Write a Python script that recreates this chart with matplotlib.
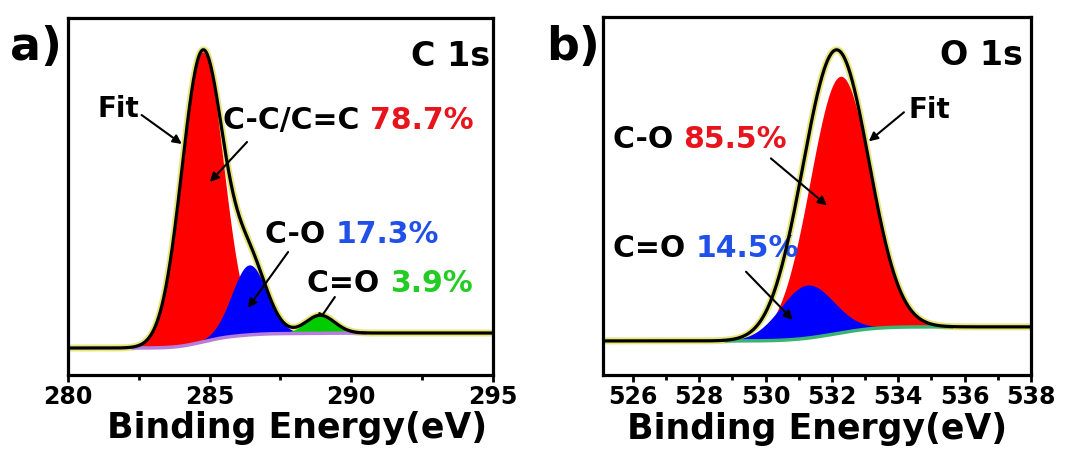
import numpy as np
import matplotlib
matplotlib.use('Agg')
import matplotlib.pyplot as plt

plt.rcParams['font.family'] = ['DejaVu Sans']
plt.rcParams['font.weight'] = 'bold'

# C 1s fitted components: centre (eV), height, FWHM (eV)
c1s_names = ['C-C/C=C', 'C-O', 'C=O']
c1s_pct = ['78.7%', '17.3%', '3.9%']
c1s_center = [284.75, 286.4, 288.9]
c1s_height = [290, 70, 18]
c1s_fwhm = [1.72, 1.45, 1.2]
c1s_bg = [27, 42]          # background level low / high BE side

# O 1s fitted components
o1s_names = ['C-O', 'C=O']
o1s_pct = ['85.5%', '14.5%']
o1s_center = [532.25, 531.25]
o1s_height = [256, 53]
o1s_fwhm = [2.15, 1.9]
o1s_bg = [34, 48]

red = '#ff0000'
blue = '#0000ff'
green = '#00cc00'
txt_red = '#e8141c'
txt_blue = '#2050e8'
txt_green = '#22cc22'


def gauss(x, c, h, w):
    s = w / 2.3548
    return h * np.exp(-(x - c) ** 2 / (2 * s ** 2))


def shirley(x, peaks, lo, hi):
    tot = np.sum(peaks, axis=0)
    cum = np.cumsum(tot)
    return lo + (hi - lo) * cum / cum[-1]


def two_color(ax, x, y, name, pct, col, fs):
    t = ax.text(x, y, name + ' ', fontsize=fs, color='k', ha='left', va='baseline')
    ax.annotate(pct, xy=(1, 0), xycoords=t, xytext=(0, 0), textcoords='offset points',
                fontsize=fs, color=col, ha='left', va='bottom')


def arrow(ax, tail, head):
    ax.annotate('', xy=head, xytext=tail,
                arrowprops=dict(arrowstyle='-|>', color='k', lw=1.5,
                                mutation_scale=13, shrinkA=0, shrinkB=0))


def style(ax, xlim, major, minor, xlab_x):
    ax.set_xlim(*xlim)
    ax.set_ylim(0, 357)
    ax.set_yticks([])
    ax.set_xticks(major)
    ax.set_xticks(minor, minor=True)
    for s in ax.spines.values():
        s.set_linewidth(2.3)
    ax.tick_params(axis='x', which='major', direction='out', length=5, width=2,
                   labelsize=17, pad=2.5)
    ax.tick_params(axis='x', which='minor', direction='out', length=3.5, width=2)
    for lab in ax.get_xticklabels():
        lab.set_fontweight('bold')
    ax.set_xlabel('Binding Energy(eV)', fontsize=25, fontweight='bold')
    ax.xaxis.set_label_coords(xlab_x, -0.102)


fig = plt.figure(figsize=(10.82, 4.57), dpi=100)
axa = fig.add_axes([0.0628, 0.1794, 0.3928, 0.7812])
axb = fig.add_axes([0.5573, 0.1794, 0.3956, 0.7834])

# ---- panel a: C 1s ----
xa = np.linspace(280, 295, 800)
pa = [gauss(xa, c, h, w) for c, h, w in zip(c1s_center, c1s_height, c1s_fwhm)]
bga = shirley(xa, pa, *c1s_bg)
fita = bga + np.sum(pa, axis=0)
m = (xa > 282.3) & (xa < 290.5)
axa.plot(xa, fita, color='#e6e67a', lw=5, zorder=1)
for p, col, z in zip(pa, [red, blue, green], [2, 3, 4]):
    axa.fill_between(xa[m], bga[m], bga[m] + p[m], color=col, lw=0, zorder=z)
axa.plot(xa[m], bga[m], color='#b57edc', lw=2.5, zorder=5)
axa.plot(xa, fita, color='k', lw=2.3, zorder=6)
style(axa, (280, 295), [280, 285, 290, 295], [282.5, 287.5, 292.5], 0.539)

axa.text(294.9, 309, 'C 1s', fontsize=24, ha='right', va='baseline')
axa.text(281.06, 258, 'Fit', fontsize=20, ha='left', va='baseline')
arrow(axa, (282.6, 260), (284.02, 231))
two_color(axa, 285.47, 246, c1s_names[0], c1s_pct[0], txt_red, 21.5)
arrow(axa, (286.32, 233), (285.01, 193))
two_color(axa, 286.95, 132, c1s_names[1], c1s_pct[1], txt_blue, 21.5)
arrow(axa, (287.77, 123), (286.35, 67))
two_color(axa, 288.44, 83, c1s_names[2], c1s_pct[2], txt_green, 21.5)
arrow(axa, (289.42, 78), (288.79, 52))

# ---- panel b: O 1s ----
xb = np.linspace(525.1, 538, 800)
pb = [gauss(xb, c, h, w) for c, h, w in zip(o1s_center, o1s_height, o1s_fwhm)]
bgb = shirley(xb, pb, *o1s_bg)
fitb = bgb + np.sum(pb, axis=0)
m = (xb > 528.8) & (xb < 535.6)
axb.plot(xb, fitb, color='#e6e67a', lw=5, zorder=1)
for p, col, z in zip(pb, [red, blue], [2, 3]):
    axb.fill_between(xb[m], bgb[m], bgb[m] + p[m], color=col, lw=0, zorder=z)
axb.plot(xb[m], bgb[m], color='#3cb371', lw=2.5, zorder=5)
axb.plot(xb, fitb, color='k', lw=2.3, zorder=6)
style(axb, (525.1, 538), list(range(526, 539, 2)), list(range(527, 538, 2)), 0.5)

axb.text(537.76, 309, 'O 1s', fontsize=24, ha='right', va='baseline')
axb.text(534.32, 256, 'Fit', fontsize=20, ha='left', va='baseline')
arrow(axb, (534.17, 262), (533.11, 233))
two_color(axb, 525.4, 226, o1s_names[0], o1s_pct[0], txt_red, 21.5)
arrow(axb, (530.16, 216), (531.85, 169))
two_color(axb, 525.4, 118, o1s_names[1], o1s_pct[1], txt_blue, 21.5)
arrow(axb, (529.41, 103), (530.82, 55))

fig.text(10 / 1082, 1 - 60 / 457, 'a)', fontsize=33, ha='left', va='baseline')
fig.text(546 / 1082, 1 - 60 / 457, 'b)', fontsize=33, ha='left', va='baseline')

fig.savefig('out.png', dpi=100)
